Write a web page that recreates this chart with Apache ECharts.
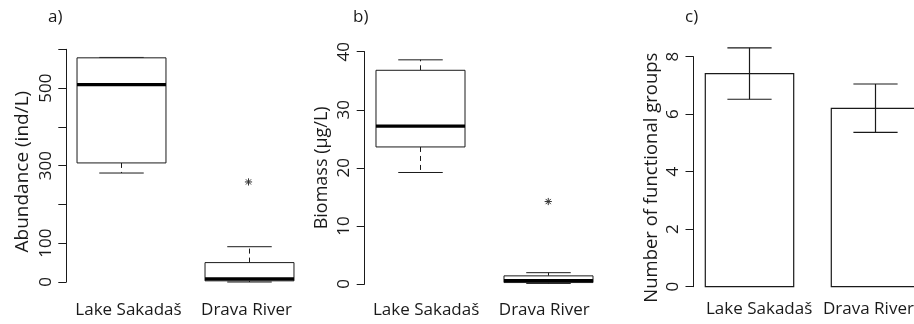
<!DOCTYPE html>
<html><head><meta charset="utf-8">
<script src="https://cdn.jsdelivr.net/npm/echarts@6/dist/echarts.min.js"></script>
<style>html,body{margin:0;padding:0;background:#fff}#c{width:914px;height:324px}</style>
</head><body><div id="c"></div>
<script>
const categories = ['Lake Sakadaš', 'Drava River'];
// box statistics: [min, Q1, median, Q3, max]
const abundanceStats = [[281, 307, 509, 578, 579], [0, 3, 8, 50, 91]];
const abundanceOutliers = [[1, 258]];
const biomassStats = [[19.2, 23.6, 27.2, 36.8, 38.6], [0.1, 0.25, 0.6, 1.4, 1.95]];
const biomassOutliers = [[1, 14.2]];
const groupMeans = [7.41, 6.2];
const groupLower = [6.52, 5.37];
const groupUpper = [8.31, 7.05];
const abundanceTickLabels = [0, 100, 300, 500];
const biomassTickLabels = [0, 10, 20, 30, 40];
const groupTickLabels = [0, 2, 4, 6, 8];

const INK = '#1a1a1a';
const FONT = 'Open Sans';
const FS = 17;
const BOX_FRAC = 0.695;
const BAR_FRAC = 0.7;

function boxRender(params, api) {
  const i = api.value(0);
  const pMin = api.coord([i, api.value(1)]);
  const pQ1 = api.coord([i, api.value(2)]);
  const pMed = api.coord([i, api.value(3)]);
  const pQ3 = api.coord([i, api.value(4)]);
  const pMax = api.coord([i, api.value(5)]);
  const band = api.size([1, 0])[0];
  const w = band * BOX_FRAC;
  const cx = Math.round(pMed[0]) + 0.5;
  const dash = {stroke: INK, lineWidth: 1, lineDash: [5, 4]};
  const solid = {stroke: INK, lineWidth: 1};
  return {type: 'group', children: [
    {type: 'line', shape: {x1: cx, y1: pQ3[1], x2: cx, y2: pMax[1]}, style: dash},
    {type: 'line', shape: {x1: cx, y1: pQ1[1], x2: cx, y2: pMin[1]}, style: dash},
    {type: 'line', shape: {x1: cx - w / 4, y1: pMax[1], x2: cx + w / 4, y2: pMax[1]}, style: solid},
    {type: 'line', shape: {x1: cx - w / 4, y1: pMin[1], x2: cx + w / 4, y2: pMin[1]}, style: solid},
    {type: 'rect', shape: {x: cx - w / 2, y: pQ3[1], width: w, height: pQ1[1] - pQ3[1]}, style: {fill: '#fff', stroke: INK, lineWidth: 1}},
    {type: 'line', shape: {x1: cx - w / 2, y1: pMed[1], x2: cx + w / 2, y2: pMed[1]}, style: {stroke: '#000', lineWidth: 3.2}}
  ]};
}

function starRender(params, api) {
  const p = api.coord([api.value(0), api.value(1)]);
  const r = 3.6, d = r * 0.72;
  const st = {stroke: '#333', lineWidth: 1};
  return {type: 'group', children: [
    {type: 'line', shape: {x1: p[0] - r, y1: p[1], x2: p[0] + r, y2: p[1]}, style: st},
    {type: 'line', shape: {x1: p[0], y1: p[1] - r, x2: p[0], y2: p[1] + r}, style: st},
    {type: 'line', shape: {x1: p[0] - d, y1: p[1] - d, x2: p[0] + d, y2: p[1] + d}, style: st},
    {type: 'line', shape: {x1: p[0] - d, y1: p[1] + d, x2: p[0] + d, y2: p[1] - d}, style: st}
  ]};
}

function barRender(params, api) {
  const i = api.value(0);
  const p0 = api.coord([i, 0]);
  const pm = api.coord([i, api.value(1)]);
  const pl = api.coord([i, api.value(2)]);
  const pu = api.coord([i, api.value(3)]);
  const band = api.size([1, 0])[0];
  const w = band * BAR_FRAC;
  const cx = Math.round(pm[0]) + 0.5;
  const st = {stroke: INK, lineWidth: 1.2};
  return {type: 'group', children: [
    {type: 'rect', shape: {x: cx - w / 2, y: pm[1], width: w, height: p0[1] - pm[1]}, style: {fill: '#fff', stroke: INK, lineWidth: 1.2}},
    {type: 'line', shape: {x1: cx, y1: pu[1], x2: cx, y2: pl[1]}, style: st},
    {type: 'line', shape: {x1: cx - w / 4, y1: pu[1], x2: cx + w / 4, y2: pu[1]}, style: st},
    {type: 'line', shape: {x1: cx - w / 4, y1: pl[1], x2: cx + w / 4, y2: pl[1]}, style: st}
  ]};
}

// horizontal nudges of the category labels (px), as in the reference
function shiftPad(dx) {
  return dx >= 0 ? [0, 0, 0, 2 * dx] : [0, -2 * dx, 0, 0];
}
function xAxis(gi, margin, shifts) {
  return {type: 'category', gridIndex: gi, boundaryGap: true,
    data: categories.map((c, i) => ({value: c, textStyle: {padding: shiftPad(shifts[i])}})),
    axisLine: {show: false}, axisTick: {show: false}, splitLine: {show: false},
    axisLabel: {margin: margin, fontSize: FS, fontFamily: FONT, color: INK, interval: 0}};
}
function yAxis(gi, max, interval, labels, name, offset, nameGap, nameSize, nameShift) {
  return {type: 'value', gridIndex: gi, min: 0, max: max, interval: interval, offset: offset,
    axisLine: {show: true, lineStyle: {color: INK, width: 1}},
    axisTick: {show: true, length: 8, lineStyle: {color: INK, width: 1}},
    splitLine: {show: false},
    axisLabel: {rotate: 90, margin: 12, fontSize: FS, fontFamily: FONT, color: INK,
      formatter: v => labels.includes(v) ? String(v) : ''},
    name: name, nameLocation: 'middle', nameGap: nameGap,
    nameTextStyle: {fontSize: nameSize, fontFamily: FONT, color: INK, padding: shiftPad(-nameShift)}};
}

const chart = echarts.init(document.getElementById('c'), null, {renderer: 'canvas'});
chart.setOption({
  animation: false,
  backgroundColor: '#fff',
  title: [
    {text: 'a)', left: 48, top: 9, padding: 0, textStyle: {fontSize: FS, fontWeight: 'normal', fontFamily: FONT, color: INK}},
    {text: 'b)', left: 353, top: 9, padding: 0, textStyle: {fontSize: FS, fontWeight: 'normal', fontFamily: FONT, color: INK}},
    {text: 'c)', left: 685, top: 9, padding: 0, textStyle: {fontSize: FS, fontWeight: 'normal', fontFamily: FONT, color: INK}}
  ],
  grid: [
    {left: 56.5, top: 49.3, width: 256, height: 232.7, outerBoundsMode: 'none', containLabel: false},
    {left: 356.1, top: 51.7, width: 256.2, height: 232.3, outerBoundsMode: 'none', containLabel: false},
    {left: 686, top: 56.7, width: 252.6, height: 230, outerBoundsMode: 'none', containLabel: false}
  ],
  xAxis: [xAxis(0, 20, [8, -2]), xAxis(1, 18, [6, -4]), xAxis(2, 14, [10, -7])],
  yAxis: [
    yAxis(0, 600, 100, abundanceTickLabels, 'Abundance (ind/L)', -9.8, 34, 19, 6),
    yAxis(1, 40, 10, biomassTickLabels, 'Biomass (µg/L)', -8.6, 34, 18, 0),
    yAxis(2, 8, 2, groupTickLabels, 'Number of functional groups', -7.5, 32, 18.5, 6)
  ],
  series: [
    {type: 'custom', xAxisIndex: 0, yAxisIndex: 0, renderItem: boxRender,
      data: abundanceStats.map((s, i) => [i, ...s]), encode: {x: 0, y: [1, 2, 3, 4, 5]}},
    {type: 'custom', xAxisIndex: 0, yAxisIndex: 0, renderItem: starRender,
      data: abundanceOutliers, encode: {x: 0, y: 1}},
    {type: 'custom', xAxisIndex: 1, yAxisIndex: 1, renderItem: boxRender,
      data: biomassStats.map((s, i) => [i, ...s]), encode: {x: 0, y: [1, 2, 3, 4, 5]}},
    {type: 'custom', xAxisIndex: 1, yAxisIndex: 1, renderItem: starRender,
      data: biomassOutliers, encode: {x: 0, y: 1}},
    {type: 'custom', xAxisIndex: 2, yAxisIndex: 2, renderItem: barRender,
      data: groupMeans.map((m, i) => [i, m, groupLower[i], groupUpper[i]]), encode: {x: 0, y: [1, 2, 3]}}
  ]
});
</script></body></html>
